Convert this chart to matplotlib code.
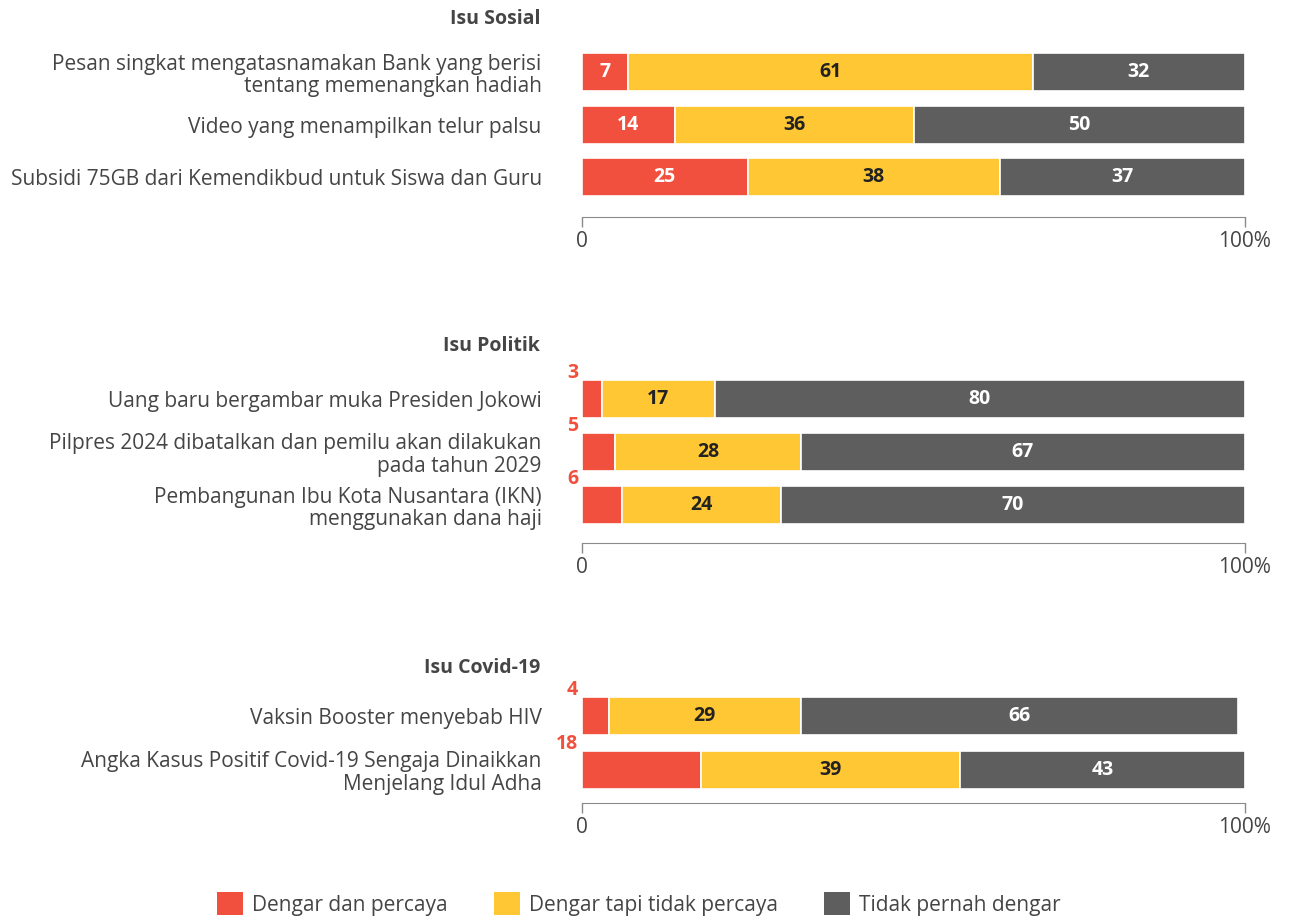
import matplotlib.pyplot as plt
from matplotlib.patches import Patch

plt.rcParams['font.family'] = ['Open Sans', 'DejaVu Sans']

# data
kategori_legend = ['Dengar dan percaya', 'Dengar tapi tidak percaya', 'Tidak pernah dengar']
warna = ['#F0503D', '#FFC733', '#5E5E5E']

judul_sosial = 'Isu Sosial'
label_sosial = ['Pesan singkat mengatasnamakan Bank yang berisi\ntentang memenangkan hadiah',
                'Video yang menampilkan telur palsu',
                'Subsidi 75GB dari Kemendikbud untuk Siswa dan Guru']
nilai_sosial = [[7, 61, 32], [14, 36, 50], [25, 38, 37]]

judul_politik = 'Isu Politik'
label_politik = ['Uang baru bergambar muka Presiden Jokowi',
                 'Pilpres 2024 dibatalkan dan pemilu akan dilakukan\npada tahun 2029',
                 'Pembangunan Ibu Kota Nusantara (IKN)\nmenggunakan dana haji']
nilai_politik = [[3, 17, 80], [5, 28, 67], [6, 24, 70]]

judul_covid = 'Isu Covid-19'
label_covid = ['Vaksin Booster menyebab HIV',
               'Angka Kasus Positif Covid-19 Sengaja Dinaikkan\nMenjelang Idul Adha']
nilai_covid = [[4, 29, 66], [18, 39, 43]]

W, H = 1292, 917
fig = plt.figure(figsize=(W / 100, H / 100), dpi=100)
teks = '#454545'


def panel(judul, labels, nilai, c0, s, bawah, atas, y_judul, merah_luar):
    ax = fig.add_axes([582 / W, 1 - bawah / H, 663 / W, (bawah - atas) / H])
    n = len(labels)
    kiri = [0] * n
    for j in range(3):
        vals = [v[j] for v in nilai]
        ax.barh(range(n), vals, left=kiri, height=38 / s, color=warna[j],
                edgecolor='white', linewidth=1.2)
        for i, v in enumerate(vals):
            if j == 0 and merah_luar:
                ax.annotate(str(v), (0, i), xytext=(-4, 26), textcoords='offset pixels',
                            ha='right', va='center', color=warna[0],
                            fontsize=14, fontweight='bold')
            else:
                ax.text(kiri[i] + v / 2, i, str(v), ha='center', va='center',
                        color='#222222' if j == 1 else 'white',
                        fontsize=14, fontweight='bold')
        kiri = [a + b for a, b in zip(kiri, vals)]
    ax.set_xlim(0, 100)
    ax.set_ylim((bawah - c0) / s, (atas - c0) / s)
    ax.set_yticks(range(n))
    ax.set_yticklabels(labels, fontsize=15, color=teks, linespacing=1.1)
    ax.tick_params(axis='y', length=0, pad=29)
    for lbl in ax.get_yticklabels():
        lbl.set_horizontalalignment('right')
    ax.set_xticks([0, 100])
    ax.set_xticklabels(['0', '100%'], fontsize=15, color=teks)
    ax.tick_params(axis='x', length=7, color='#8a8a8a', width=1, pad=3)
    for sp in ['top', 'left', 'right']:
        ax.spines[sp].set_visible(False)
    ax.spines['bottom'].set_color('#8a8a8a')
    fig.text(540 / W, 1 - y_judul / H, judul, ha='right', va='center',
             fontsize=14, fontweight='bold', color=teks)
    return ax


panel(judul_sosial, label_sosial, nilai_sosial, 72, 52.5, 217, 40, 19, False)
panel(judul_politik, label_politik, nilai_politik, 399, 53, 543, 365, 346, True)
panel(judul_covid, label_covid, nilai_covid, 716, 54, 803, 685, 668, True)

handles = [Patch(facecolor=c) for c in warna]
fig.legend(handles, kategori_legend, loc='center', bbox_to_anchor=(639 / W, 1 - 904 / H),
           ncol=3, frameon=False, fontsize=15, handlelength=1.25, handleheight=1.25,
           handletextpad=0.45, columnspacing=2.2, labelcolor=teks,
           borderaxespad=0, borderpad=0)

fig.savefig('out.png', dpi=100)
